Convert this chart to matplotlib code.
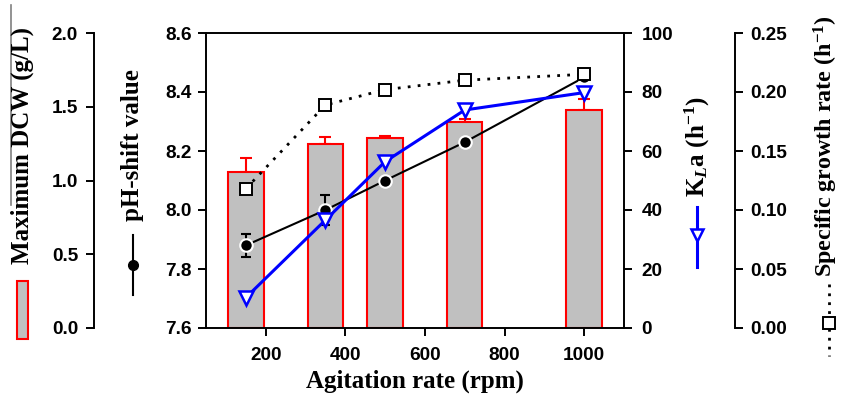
import matplotlib
matplotlib.use("Agg")
import matplotlib.pyplot as plt
from matplotlib.lines import Line2D
from matplotlib.patches import Rectangle

# ---- data -------------------------------------------------------------
agitation = [150, 350, 500, 700, 1000]          # rpm
dcw = [1.06, 1.25, 1.29, 1.40, 1.48]            # g/L
dcw_err = [0.09, 0.045, 0.015, 0.02, 0.07]
ph_shift = [7.88, 8.00, 8.10, 8.23, 8.45]
ph_err = [0.04, 0.05, 0.01, 0.01, 0.01]
kla = [10.3, 36.6, 56.4, 73.9, 79.8]            # h^-1
mu = [0.118, 0.189, 0.202, 0.210, 0.215]        # h^-1

x_ticks = [200, 400, 600, 800, 1000]
dcw_ticks = [0.0, 0.5, 1.0, 1.5, 2.0]
ph_ticks = [7.6, 7.8, 8.0, 8.2, 8.4, 8.6]
kla_ticks = [0, 20, 40, 60, 80, 100]
mu_ticks = [0.00, 0.05, 0.10, 0.15, 0.20, 0.25]

# ---- style ------------------------------------------------------------
W, H = 842, 407
plt.rcParams["font.family"] = ["Liberation Sans", "DejaVu Sans"]
plt.rcParams["font.weight"] = "bold"
plt.rcParams["mathtext.fontset"] = "custom"
plt.rcParams["mathtext.rm"] = "Liberation Serif:bold"
plt.rcParams["mathtext.bf"] = "Liberation Serif:bold"
plt.rcParams["mathtext.it"] = "Liberation Serif:italic:bold"

TICK_FS = 13.7
LABEL_FS = 18
SPINE_LW = 1.4
serif = dict(family="Liberation Serif", weight="bold", size=LABEL_FS)

fig = plt.figure(figsize=(W / 100, H / 100), dpi=100)

# plot frame in pixels
L, R, T, B = 206, 624, 33, 328
rect = [L / W, 1 - B / H, (R - L) / W, (B - T) / H]


def px(x, y):
    return x / W, 1 - y / H


def style_ticks(ax, axis="y", pad=5):
    ax.tick_params(axis=axis, direction="out", length=5.5, width=SPINE_LW,
                   labelsize=TICK_FS, pad=pad)


# base axes: DCW bars + x axis
ax_dcw = fig.add_axes(rect)
ax_dcw.bar(agitation, dcw, width=89, color="#c0c0c0", edgecolor="#ff0000",
           linewidth=1.5, zorder=2)
ax_dcw.errorbar(agitation, dcw, yerr=[[0] * len(dcw), dcw_err], fmt="none",
                ecolor="#ff0000", elinewidth=1.5, capsize=4.5, capthick=1.5,
                zorder=1)
ax_dcw.set_xlim(50, 1100)
ax_dcw.set_ylim(0, 2.0)
ax_dcw.set_xticks(x_ticks)
ax_dcw.set_yticks(dcw_ticks)
ax_dcw.set_yticklabels([f"{v:.1f}" for v in dcw_ticks])
ax_dcw.spines["left"].set_position(("axes", (94 - L) / (R - L)))
ax_dcw.spines["right"].set_visible(False)
for s in ["left", "top", "bottom"]:
    ax_dcw.spines[s].set_linewidth(SPINE_LW)
style_ticks(ax_dcw, "y", pad=6)
ax_dcw.tick_params(axis="x", direction="out", length=5.5, width=SPINE_LW,
                   labelsize=TICK_FS, pad=8)
ax_dcw.set_xlabel("Agitation rate (rpm)", fontdict=serif, labelpad=4)

# pH-shift axis (inner left)
ax_ph = ax_dcw.twinx()
ax_ph.yaxis.tick_left()
ax_ph.spines["left"].set_visible(True)
ax_ph.spines["left"].set_linewidth(SPINE_LW)
for s in ["right", "top", "bottom"]:
    ax_ph.spines[s].set_visible(False)
ax_ph.set_ylim(7.6, 8.6)
ax_ph.set_yticks(ph_ticks)
ax_ph.set_yticklabels([f"{v:.1f}" for v in ph_ticks])
style_ticks(ax_ph, "y", pad=5)
ax_ph.errorbar(agitation, ph_shift, yerr=ph_err, fmt="none", ecolor="black",
               elinewidth=1.5, capsize=3.6, capthick=1.5, zorder=2)
ax_ph.plot(agitation, ph_shift, color="black", lw=1.5, marker="o",
           markersize=9, markerfacecolor="black", markeredgecolor="white",
           markeredgewidth=1.5, zorder=3)

# KLa axis (inner right)
ax_kla = ax_dcw.twinx()
for s in ["left", "top", "bottom"]:
    ax_kla.spines[s].set_visible(False)
ax_kla.spines["right"].set_linewidth(SPINE_LW)
ax_kla.set_ylim(0, 100)
ax_kla.set_yticks(kla_ticks)
style_ticks(ax_kla, "y", pad=7)
ax_kla.plot(agitation, kla, color="#0000ff", lw=2.2, marker="v",
            markersize=9.5, markerfacecolor="white", markeredgecolor="#0000ff",
            markeredgewidth=1.8, zorder=3)

# specific growth rate axis (outer right)
ax_mu = ax_dcw.twinx()
for s in ["left", "top", "bottom"]:
    ax_mu.spines[s].set_visible(False)
ax_mu.spines["right"].set_position(("axes", (735 - L) / (R - L)))
ax_mu.spines["right"].set_linewidth(SPINE_LW)
ax_mu.set_ylim(0, 0.25)
ax_mu.set_yticks(mu_ticks)
ax_mu.set_yticklabels([f"{v:.2f}" for v in mu_ticks])
style_ticks(ax_mu, "y", pad=5.5)
ax_mu.plot(agitation, mu, color="black", lw=2, linestyle=(0, (1, 2.6)),
           marker="s", markersize=8.5, markerfacecolor="white",
           markeredgecolor="black", markeredgewidth=1.4, zorder=4)

for a in (ax_ph, ax_kla, ax_mu):
    a.patch.set_visible(False)

# ---- axis titles with their series keys ---------------------------------
fig.text(*px(22, 146), "Maximum DCW (g/L)", rotation=90, ha="center",
         va="center", **serif)
fig.add_artist(Line2D([11 / W, 11 / W], [1 - 5 / H, 1 - 205 / H],
                      color="#808080", lw=1.2, transform=fig.transFigure))
fig.add_artist(Rectangle(px(17, 339), 11 / W, 58 / H, facecolor="#c0c0c0",
                         edgecolor="#ff0000", lw=1.5,
                         transform=fig.transFigure))

fig.text(*px(133, 145), "pH-shift value", rotation=90, ha="center",
         va="center", **serif)
fig.add_artist(Line2D([133 / W] * 3, [1 - 235 / H, 1 - 265 / H, 1 - 295 / H],
                      color="black", lw=1.5, marker="o", markevery=[1],
                      markersize=7, markerfacecolor="black",
                      markeredgecolor="black", transform=fig.transFigure))

fig.text(*px(697, 147), r"K$_{\mathit{L}}$a (h$^{-1}$)", rotation=90,
         ha="center", va="center", **serif)
fig.add_artist(Line2D([697 / W] * 3, [1 - 207 / H, 1 - 235 / H, 1 - 267 / H],
                      color="#0000ff", lw=2.2, marker="v", markevery=[1],
                      markersize=9, markerfacecolor="white",
                      markeredgecolor="#0000ff", markeredgewidth=1.8,
                      transform=fig.transFigure))

fig.text(*px(826, 146), r"Specific growth rate (h$^{-1}$)", rotation=90,
         ha="center", va="center", family="Liberation Serif", weight="bold",
         size=17.3)
fig.add_artist(Line2D([829 / W] * 3, [1 - 284 / H, 1 - 323 / H, 1 - 356 / H],
                      color="black", lw=2, linestyle=(0, (1, 2.2)),
                      marker="s", markevery=[1], markersize=8,
                      markerfacecolor="white", markeredgecolor="black",
                      markeredgewidth=1.4, transform=fig.transFigure))

fig.savefig("out.png", dpi=100)
